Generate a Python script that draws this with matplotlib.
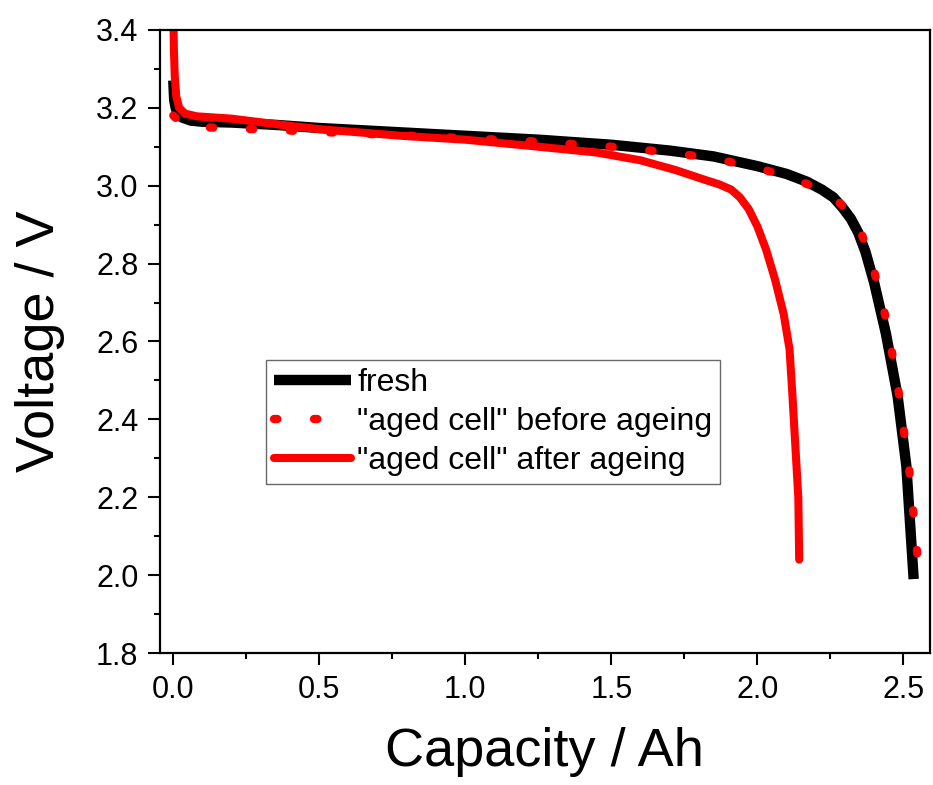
import matplotlib
matplotlib.use('Agg')
import matplotlib.pyplot as plt
from matplotlib.ticker import MultipleLocator

plt.rcParams['font.family'] = ['Liberation Sans', 'DejaVu Sans']

# fresh cell
cap_fresh = [0, 0.003, 0.008, 0.015, 0.03, 0.06, 0.1, 0.2, 0.35, 0.5, 0.75, 1.0, 1.25, 1.5,
             1.7, 1.85, 2.0, 2.1, 2.17, 2.22, 2.26, 2.29, 2.32, 2.345, 2.37, 2.40, 2.44, 2.48, 2.51, 2.535]
volt_fresh = [3.27, 3.22, 3.20, 3.185, 3.175, 3.167, 3.164, 3.162, 3.156, 3.148, 3.138, 3.128, 3.118, 3.105,
              3.09, 3.075, 3.05, 3.03, 3.01, 2.99, 2.97, 2.945, 2.915, 2.88, 2.83, 2.75, 2.62, 2.46, 2.28, 1.99]

# "aged cell" before ageing
cap_before = [0, 0.02, 0.05, 0.1, 0.2, 0.35, 0.5, 0.75, 1.0, 1.25, 1.5, 1.7, 1.85, 2.0,
              2.1, 2.2, 2.27, 2.32, 2.36, 2.40, 2.44, 2.48, 2.52, 2.555]
volt_before = [3.18, 3.165, 3.155, 3.15, 3.147, 3.143, 3.138, 3.13, 3.122, 3.113, 3.1, 3.085, 3.07, 3.045,
               3.025, 2.995, 2.965, 2.925, 2.87, 2.78, 2.66, 2.49, 2.27, 1.995]

# "aged cell" after ageing
cap_after = [0, 0.002, 0.005, 0.01, 0.02, 0.04, 0.08, 0.2, 0.35, 0.5, 0.78, 1.0, 1.25, 1.45,
             1.6, 1.72, 1.82, 1.87, 1.91, 1.94, 1.97, 2.0, 2.03, 2.06, 2.09, 2.11, 2.12, 2.13, 2.14, 2.143]
volt_after = [3.45, 3.35, 3.28, 3.23, 3.2, 3.185, 3.178, 3.172, 3.158, 3.145, 3.128, 3.118, 3.10, 3.085,
              3.065, 3.04, 3.015, 3.003, 2.99, 2.97, 2.94, 2.895, 2.835, 2.76, 2.67, 2.58, 2.46, 2.33, 2.2, 2.04]

fig = plt.figure(figsize=(9.33, 7.85), dpi=100)
ax = fig.add_axes([0.1715, 0.168, 0.825, 0.794])

ax.plot(cap_fresh, volt_fresh, color='black', lw=7.5, solid_capstyle='butt', label='fresh')
ax.plot(cap_before, volt_before, color='red', lw=6, linestyle=(0, (0.4, 4.4)),
        dash_capstyle='round', label='"aged cell" before ageing')
ax.plot(cap_after, volt_after, color='red', lw=5.8, solid_capstyle='round', label='"aged cell" after ageing')

ax.set_xlim(-0.0455, 2.59)
ax.set_ylim(1.8, 3.4)
ax.xaxis.set_major_locator(MultipleLocator(0.5))
ax.xaxis.set_minor_locator(MultipleLocator(0.25))
ax.yaxis.set_major_locator(MultipleLocator(0.2))
ax.yaxis.set_minor_locator(MultipleLocator(0.1))
ax.tick_params(which='major', direction='out', length=8.5, width=1.5, labelsize=22, pad=7)
ax.tick_params(which='minor', direction='out', length=4.5, width=1.5)
for s in ax.spines.values():
    s.set_linewidth(1.6)

ax.set_xlabel('Capacity / Ah', fontsize=39, labelpad=16)
ax.set_ylabel('Voltage / V', fontsize=39, labelpad=22)

leg = ax.legend(loc='upper left', bbox_to_anchor=(0.1377, 0.470), fontsize=23, frameon=True,
                fancybox=False, edgecolor='#444444', handlelength=2.4, handletextpad=0.2,
                labelspacing=0.28, borderpad=0.25, borderaxespad=0)
leg.get_frame().set_linewidth(1.0)

fig.savefig('out.png', dpi=100)
